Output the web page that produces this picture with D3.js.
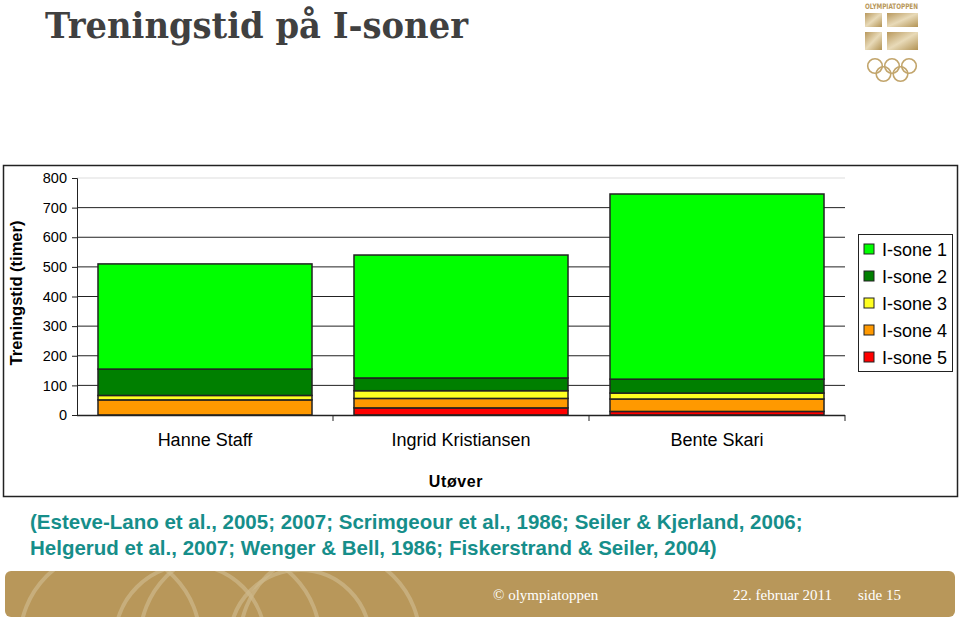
<!DOCTYPE html>
<html><head><meta charset="utf-8">
<script src="https://cdn.jsdelivr.net/npm/d3@7"></script>
<style>body{margin:0;background:#fff}svg{display:block}</style>
</head><body>
<svg id="c" width="960" height="620"></svg>
<script>
const athletes = ["Hanne Staff", "Ingrid Kristiansen", "Bente Skari"];
const zones = ["I-sone 1", "I-sone 2", "I-sone 3", "I-sone 4", "I-sone 5"];
const zoneColors = ["#00FF00", "#007F00", "#FFFF22", "#FF9900", "#FF0000"];
// values in hours, per zone, per athlete
const sone1 = [355, 415, 625];
const sone2 = [89, 43, 47];
const sone3 = [15, 26, 20];
const sone4 = [51, 32, 42];
const sone5 = [0, 24, 12];
const yTicks = [0, 100, 200, 300, 400, 500, 600, 700, 800];

const series = [sone1, sone2, sone3, sone4, sone5];
const rows = athletes.map((a, i) => {
  const r = {athlete: a};
  zones.forEach((z, k) => r[z] = series[k][i]);
  return r;
});
// stacking order bottom->top: I-sone 5, 4, 3, 2, 1
const stack = d3.stack().keys(zones.slice().reverse())(rows);

const svg = d3.select("#c");
const SANS = "Arial, 'Liberation Sans', sans-serif";

// Title
svg.append("text").attr("x", 45).attr("y", 38)
  .attr("font-family", "'DejaVu Serif', serif").attr("font-weight", "bold")
  .attr("font-size", 35).attr("fill", "#404040")
  .attr("textLength", 423).attr("lengthAdjust", "spacingAndGlyphs")
  .text("Treningstid på I-soner");

// Logo (approximation)
const logo = svg.append("g");
const lg = logo.append("defs").append("linearGradient").attr("id", "gold").attr("x1", 0).attr("y1", 0).attr("x2", 1).attr("y2", 1);
lg.append("stop").attr("offset", "0").attr("stop-color", "#B8985C");
lg.append("stop").attr("offset", "0.5").attr("stop-color", "#E8DAB8");
lg.append("stop").attr("offset", "1").attr("stop-color", "#B29354");
logo.append("text").attr("x", 891.5).attr("y", 8.5).attr("text-anchor", "middle")
  .attr("font-family", "'DejaVu Sans Condensed', 'DejaVu Sans', sans-serif").attr("font-weight", "bold")
  .attr("font-size", 7.5).attr("fill", "#B8975A").attr("textLength", 53).attr("lengthAdjust", "spacingAndGlyphs")
  .text("OLYMPIATOPPEN");
[[865,13,17,14],[887,13,31,14],[865,32,17,18],[887,32,31,18]].forEach(r => {
  logo.append("rect").attr("x", r[0]).attr("y", r[1]).attr("width", r[2]).attr("height", r[3]).attr("fill", "url(#gold)");
});
[[875,66],[892,66],[909,66],[883.5,74],[900.5,74]].forEach(c => {
  logo.append("circle").attr("cx", c[0]).attr("cy", c[1]).attr("r", 7.3)
    .attr("fill", "none").attr("stroke", "#C2A56C").attr("stroke-width", 1.6);
});

// Chart frame
svg.append("rect").attr("x", 3.5).attr("y", 165.5).attr("width", 954).attr("height", 331)
  .attr("fill", "#fff").attr("stroke", "#222").attr("stroke-width", 1.5);

const plot = {left: 77, right: 845, top: 178, bottom: 415};
const x = d3.scaleBand().domain(athletes).range([plot.left, plot.right]).paddingInner(0.164).paddingOuter(0.082);
const y = d3.scaleLinear().domain([0, 800]).range([plot.bottom, plot.top]);

// gridlines
svg.append("g").selectAll("line").data(yTicks.filter(t => t > 0)).join("line")
  .attr("x1", plot.left).attr("x2", plot.right)
  .attr("y1", d => y(d)).attr("y2", d => y(d))
  .attr("stroke", d => d === 800 ? "#ddd" : "#222").attr("stroke-width", 1);

// bars
const colorOf = d3.scaleOrdinal().domain(zones).range(zoneColors);
svg.append("g").selectAll("g").data(stack).join("g")
  .attr("fill", d => colorOf(d.key))
  .selectAll("rect").data(d => d).join("rect")
  .attr("x", d => x(d.data.athlete))
  .attr("width", x.bandwidth())
  .attr("y", d => y(d[1]))
  .attr("height", d => y(d[0]) - y(d[1]))
  .attr("stroke", d => (d[1] - d[0]) > 0 ? "#222" : "none").attr("stroke-width", 1.5);

// y axis
const yAxis = svg.append("g").attr("transform", `translate(${plot.left},0)`)
  .call(d3.axisLeft(y).tickValues(yTicks).tickSize(5).tickPadding(5));
yAxis.select(".domain").attr("stroke", "#222");
yAxis.selectAll(".tick line").attr("stroke", "#222");
yAxis.selectAll("text").attr("font-family", SANS).attr("font-size", 14.5).attr("fill", "#000");

// x axis
svg.append("line").attr("x1", plot.left).attr("x2", plot.right).attr("y1", plot.bottom + 0.5).attr("y2", plot.bottom + 0.5)
  .attr("stroke", "#222").attr("stroke-width", 1.5);
const bounds = [plot.left + x.step(), plot.left + 2 * x.step(), plot.right];
svg.append("g").selectAll("line").data(bounds).join("line")
  .attr("x1", d => d).attr("x2", d => d).attr("y1", plot.bottom).attr("y2", plot.bottom + 6)
  .attr("stroke", "#222");
svg.append("g").selectAll("text").data(athletes).join("text")
  .attr("x", d => x(d) + x.bandwidth() / 2).attr("y", 446).attr("text-anchor", "middle")
  .attr("font-family", SANS).attr("font-size", 18).attr("fill", "#000")
  .text(d => d);

svg.append("text").attr("x", 456).attr("y", 487).attr("text-anchor", "middle")
  .attr("font-family", SANS).attr("font-weight", "bold").attr("font-size", 16).attr("letter-spacing", 0.6)
  .text("Utøver");

svg.append("text").attr("transform", "translate(22,293) rotate(-90)").attr("text-anchor", "middle")
  .attr("font-family", SANS).attr("font-weight", "bold").attr("font-size", 16.5)
  .text("Treningstid (timer)");

// legend
svg.append("rect").attr("x", 858.5).attr("y", 234.5).attr("width", 94).attr("height", 137)
  .attr("fill", "#fff").attr("stroke", "#222").attr("stroke-width", 1);
const leg = svg.append("g").selectAll("g").data(zones).join("g")
  .attr("transform", (d, i) => `translate(864,${249 + i * 27})`);
leg.append("rect").attr("x", 0).attr("y", -5).attr("width", 10).attr("height", 10)
  .attr("fill", d => colorOf(d)).attr("stroke", "#222").attr("stroke-width", 1);
leg.append("text").attr("x", 18).attr("y", 6.5)
  .attr("font-family", SANS).attr("font-size", 18).text(d => d);

// citation
const cite = ["(Esteve-Lano et al., 2005; 2007; Scrimgeour et al., 1986; Seiler & Kjerland, 2006;",
              "Helgerud et al., 2007; Wenger & Bell, 1986; Fiskerstrand & Seiler, 2004)"];
svg.append("g").selectAll("text").data(cite).join("text")
  .attr("x", 30).attr("y", (d, i) => 529 + i * 26)
  .attr("font-family", SANS).attr("font-weight", "bold").attr("font-size", 20.5)
  .attr("fill", "#168E8A").text(d => d);

// footer
const foot = svg.append("g");
foot.append("clipPath").attr("id", "fclip").append("rect")
  .attr("x", 5).attr("y", 571).attr("width", 950).attr("height", 46).attr("rx", 6);
foot.append("rect").attr("x", 5).attr("y", 571).attr("width", 950).attr("height", 46).attr("rx", 6).attr("fill", "#B8975A");
const fc = foot.append("g").attr("clip-path", "url(#fclip)");
[[110,640,90],[230,640,90],[190,640,75],[330,640,90],[300,640,70]].forEach(c => {
  fc.append("circle").attr("cx", c[0]).attr("cy", c[1]).attr("r", c[2])
    .attr("fill", "none").attr("stroke", "#CDB88A").attr("stroke-width", 4).attr("opacity", 0.7);
});
const ftxt = [["© olympiatoppen", 493], ["22. februar 2011", 733], ["side 15", 858]];
foot.selectAll("text").data(ftxt).join("text")
  .attr("x", d => d[1]).attr("y", 600)
  .attr("font-family", "'Liberation Serif', 'DejaVu Serif', serif").attr("font-size", 15).attr("fill", "#fff")
  .text(d => d[0]);
</script>
</body></html>
